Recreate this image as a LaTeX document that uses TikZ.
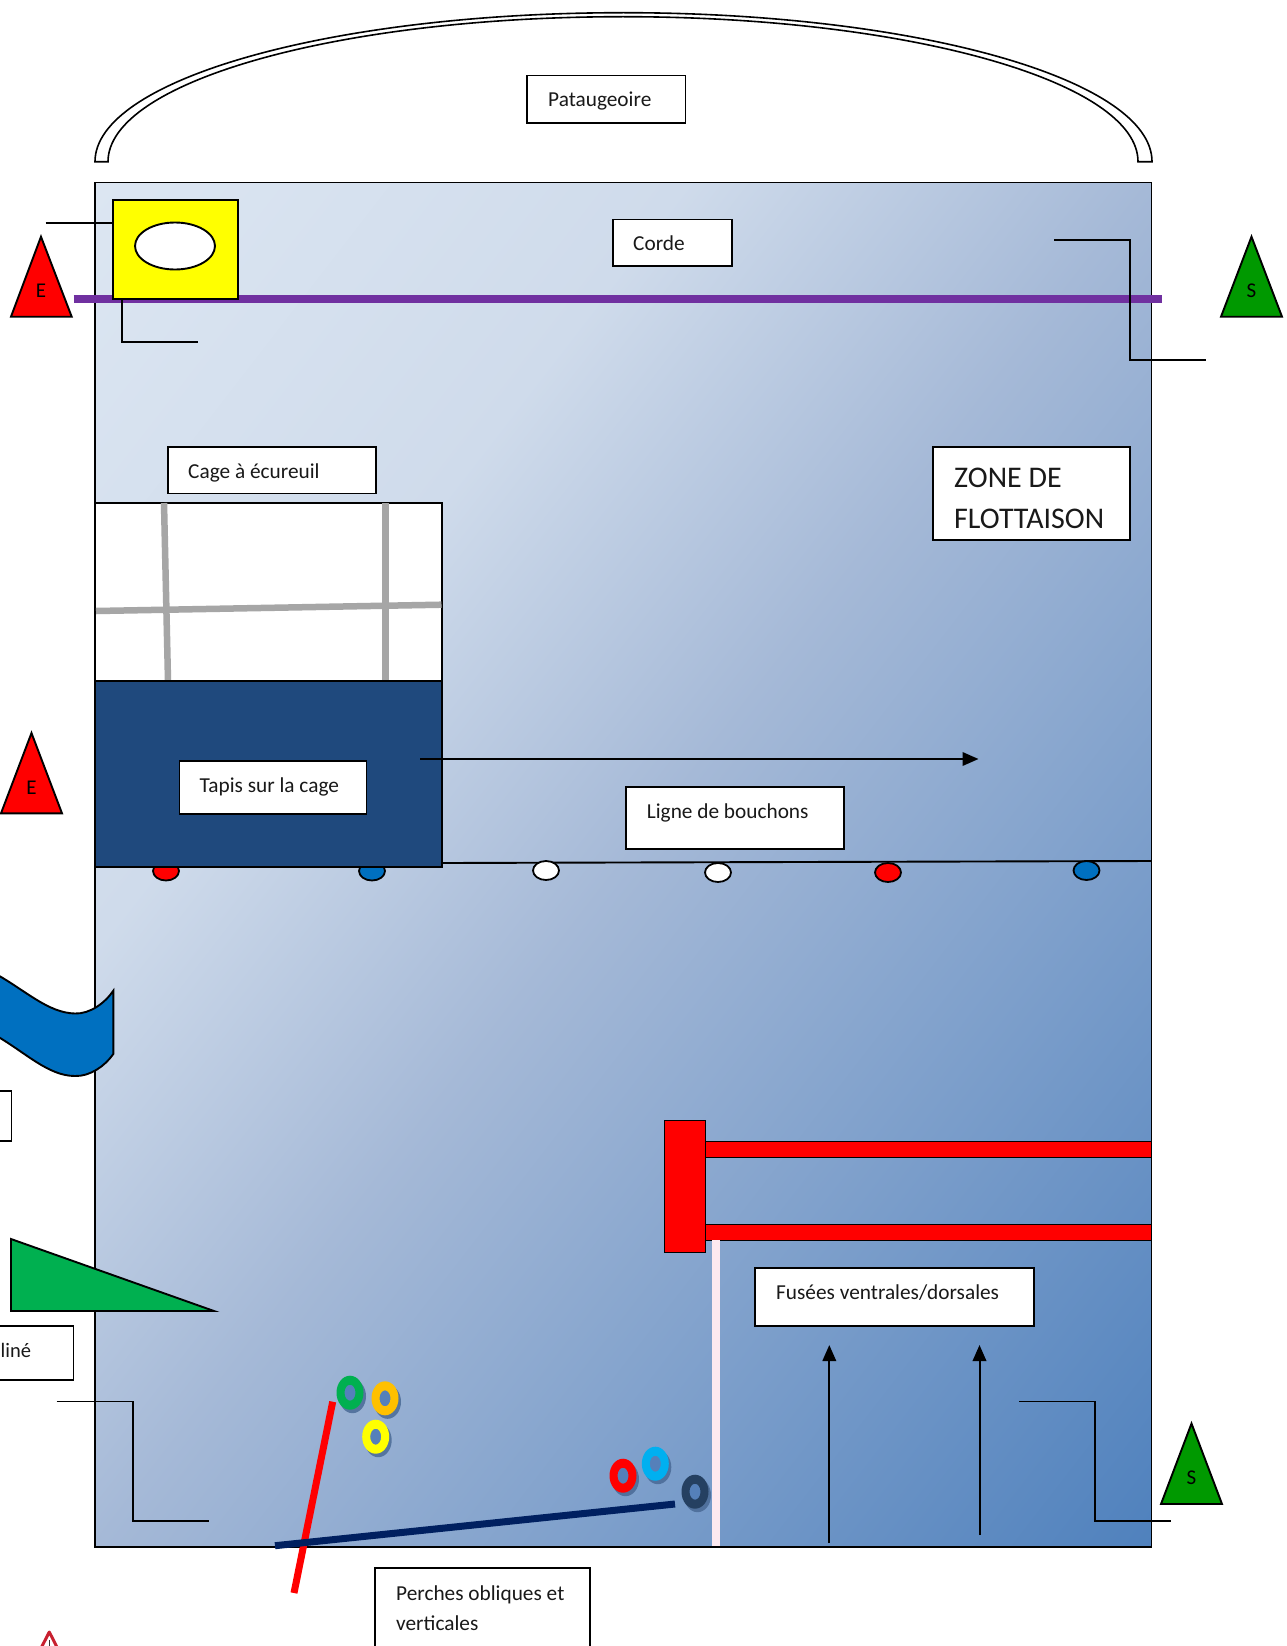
\documentclass[tikz,border=0pt]{standalone}
\usepackage{fontspec}
\setmainfont{Carlito}
\usetikzlibrary{arrows.meta,shapes.geometric}
\definecolor{navyf}{HTML}{1F497D}
\definecolor{rodnavy}{HTML}{002060}
\definecolor{purp}{HTML}{7030A0}
\definecolor{grn}{HTML}{00B050}
\definecolor{sgreen}{HTML}{009900}
\definecolor{wavec}{HTML}{0070C0}
\definecolor{pole}{HTML}{FDE9F0}
\definecolor{grayb}{HTML}{A6A6A6}
\definecolor{ringhole}{HTML}{5580BA}
\definecolor{ringshadow}{HTML}{4A6A96}
\definecolor{warnred}{HTML}{C8202F}
\definecolor{ringor}{HTML}{FFC000}
\definecolor{ringcy}{HTML}{00B0F0}
\definecolor{ringdk}{HTML}{254061}
\definecolor{yel}{HTML}{FFFF00}
\definecolor{gA}{HTML}{DCE6F2}
\definecolor{gAB}{HTML}{CFDBEB}
\definecolor{gB}{HTML}{A5B9D7}
\definecolor{gC}{HTML}{4F81BD}
\pgfdeclareverticalshading{poolshade}{100bp}{color(0bp)=(gC);color(50bp)=(gB);color(72bp)=(gAB);color(100bp)=(gA)}
\tikzset{
 x=1pt,y=-1pt,
 conn/.style={draw=black,line width=1.9pt},
 boxr/.style={draw=black,line width=1.8pt,fill=white},
 lab/.style={font=\fontsize{21.3}{24}\selectfont,anchor=base west,inner sep=0pt,text=black!90},
 bigl/.style={font=\fontsize{30}{32}\selectfont,anchor=base west,inner sep=0pt,text=black!90},
 trilab/.style={font=\fontsize{21}{24}\selectfont,inner sep=0pt,text=black},
 tri/.style={draw=black,line width=1.9pt,line join=miter,fill=#1},
 floatb/.style={draw=black,line width=1.8pt,fill=#1,ellipse,minimum width=26pt,minimum height=19pt,inner sep=0pt},
 barr/.style={draw=black,line width=1pt,fill=red},
 grayrod/.style={draw=grayb,line width=6.5pt},
 arrowline/.style={draw=black,line width=2pt,-{Triangle[length=16pt,width=13.5pt]}},
 ringshape/.style={fill=#1,even odd rule}
}
\newcommand{\ringmark}[3]{%
 \fill[ringshadow,opacity=.85] (#1+2.5,#2+3.5) circle[x radius=13.5,y radius=17];
 \fill[ringhole] (#1,#2) circle[x radius=7,y radius=10];
 \path[ringshape=#3] (#1,#2) circle[x radius=13.5,y radius=17] (#1,#2) circle[x radius=5.5,y radius=8];
}
\begin{document}
\begin{tikzpicture}
\useasboundingbox (0,0) rectangle (1287,1646);
\clip (0,0) rectangle (1287,1646);
% roof
\path[draw=black,line width=1.6pt,fill=white] (95,161.7) arc[start angle=180,end angle=360,x radius=528.5,y radius=149] -- (1138,161.7) arc[start angle=360,end angle=180,x radius=515,y radius=145] -- cycle;
% main pool
\begin{scope}
 \clip (95,182.5) rectangle (1151.5,1547);
 \pgflowlevelobj{\pgftransformshift{\pgfpointxy{623.25}{864.75}}\pgftransformcm{10.52}{13.59}{-10.52}{13.59}{\pgfpointorigin}}{\pgfuseshading{poolshade}}
\end{scope}
\draw[conn] (95,182.5) rectangle (1151.5,1547);
% label boxes
\draw[boxr] (527,75.5) rectangle (685.5,122.8);
\node[lab] (tpat) at (548,106.5) {Pataugeoire};
\draw[boxr] (613,219.4) rectangle (731.7,265.6);
\node[lab] (tcorde) at (633,250.5) {Corde};
\draw[boxr] (933,447) rectangle (1129.6,539.6);
\node[bigl] (tzone1) at (954,487) {ZONE DE};
\node[bigl] (tzone2) at (954,528) {FLOTTAISON};
\draw[boxr] (168,447) rectangle (376,493.4);
\node[lab] (tcage) at (188,478.5) {Cage à écureuil};
% purple rope
\coordinate (ropeL) at (73.5,299);
\coordinate (ropeR) at (1162,299);
\draw[purp,line width=7.5pt] (ropeL) -- (ropeR);
% yellow box
\node[draw=black,line width=1.9pt,fill=yel,minimum width=124.7pt,minimum height=98.7pt,inner sep=0pt] (ybox) at (175.65,249.35) {};
\node[draw=black,line width=1.9pt,fill=white,ellipse,minimum width=80pt,minimum height=47pt,inner sep=0pt] (yell) at (175,246) {};
\coordinate (yA) at (45.7,223);
\draw[conn] (yA) -- (113.3,223);
\coordinate (yB) at (198,342.3);
\draw[conn] (122,298.7) -- (122,342.3) -- (yB);
% top right bracket
\coordinate (trA) at (1054,240.4);
\coordinate (trB) at (1206,360);
\draw[conn] (trA) -- (1129.6,240.4) -- (1129.6,360) -- (trB);
% floats behind carpet
\node[floatb=red] (f1) at (166,871) {};
\node[floatb=wavec] (f2) at (372,871) {};
% cage
\node[draw=black,line width=1.9pt,fill=white,minimum width=346.5pt,minimum height=178pt,inner sep=0pt] (cage) at (268.75,592) {};
\coordinate (g1a) at (164,503); \coordinate (g1b) at (168,681);
\coordinate (g2a) at (385.3,503); \coordinate (g2b) at (385.3,681);
\coordinate (g3a) at (96,611); \coordinate (g3b) at (441.5,604.7);
\draw[grayrod] (g1a) -- (g1b);
\draw[grayrod] (g2a) -- (g2b);
\draw[grayrod] (g3a) -- (g3b);
\node[draw=black,line width=1.9pt,fill=navyf,minimum width=346.5pt,minimum height=186pt,inner sep=0pt] (carpet) at (268.75,774) {};
\draw[boxr] (179.5,761) rectangle (366.4,813.6);
\node[lab] (ttapis) at (199.5,792.5) {Tapis sur la cage};
% long arrow
\coordinate (laA) at (420,759);
\coordinate (laB) at (978.5,759);
\draw[arrowline] (laA) -- (laB);
\draw[boxr] (625.7,787) rectangle (844,849);
\node[lab] (tligne) at (646.7,818) {Ligne de bouchons};
% float line
\coordinate (flA) at (442,863);
\coordinate (flB) at (1151.6,861);
\draw[conn] (flA) -- (flB);
\node[floatb=white] (f3) at (546,870.5) {};
\node[floatb=white] (f4) at (718,872.5) {};
\node[floatb=red] (f5) at (888,872.5) {};
\node[floatb=wavec] (f6) at (1086.5,870.5) {};
% triangles
\draw[tri=red] (41,236.7) -- (71.7,316.7) -- (11,316.7) -- cycle;
\node[trilab] (e1) at (41,291) {E};
\draw[tri=red] (31.5,733) -- (62,813.3) -- (1,813.3) -- cycle;
\node[trilab] (e2) at (31.5,788) {E};
\draw[tri=sgreen] (1251.5,236.7) -- (1282,316.7) -- (1221,316.7) -- cycle;
\node[trilab] (s1) at (1251.5,291) {S};
\draw[tri=sgreen] (1191.5,1423.5) -- (1222,1504) -- (1161,1504) -- cycle;
\node[trilab] (s2) at (1191.5,1478) {S};
% wave
\path[draw=black,line width=1.9pt,fill=wavec] (-5,973.5) .. controls (25,990) and (48,1013) .. (75,1013.5) .. controls (90,1014) and (105,1003) .. (113.3,990.7) -- (113.3,1054) .. controls (105,1066) and (90,1076.5) .. (75,1076) .. controls (48,1076) and (25,1052) .. (-5,1035) -- cycle;
% cut off box
\draw[boxr] (-10,1091) rectangle (11.5,1141);
% green incline
\draw[draw=black,line width=1.9pt,fill=grn,line join=miter] (11,1239) -- (214,1311) -- (11,1311) -- cycle;
\draw[boxr] (-10,1325.7) rectangle (73.5,1380);
\node[lab,font=\fontsize{20.5}{24}\selectfont] (tline) at (0.5,1357) {liné};
% bottom left bracket
\coordinate (blA) at (56.7,1401.5);
\coordinate (blB) at (209,1521);
\draw[conn] (blA) -- (133.3,1401.5) -- (133.3,1521) -- (blB);
% bottom right bracket
\coordinate (brA) at (1019,1401.5);
\coordinate (brB) at (1170.5,1521);
\draw[conn] (brA) -- (1095,1401.5) -- (1095,1521) -- (brB);
% red structure
\draw[barr] (705.5,1141) rectangle (1151.6,1157);
\draw[barr] (705.5,1224) rectangle (1151.6,1240);
\draw[barr] (664.5,1120) rectangle (705.5,1252.5);
% pink pole
\fill[pole] (712,1240) rectangle (720,1546);
% fusees
\draw[boxr] (755,1268) rectangle (1034,1326);
\node[lab] (tfus) at (776,1299.5) {Fusées ventrales/dorsales};
\coordinate (ua1) at (829.3,1543); \coordinate (ua2) at (829.3,1345);
\coordinate (ub1) at (979.5,1535); \coordinate (ub2) at (979.5,1345);
\draw[arrowline] (ua1) -- (ua2);
\draw[arrowline] (ub1) -- (ub2);
% rings
\ringmark{350}{1392.7}{grn}
\ringmark{385}{1398.3}{ringor}
\ringmark{375.7}{1436.7}{yel}
\ringmark{623}{1475.7}{red}
\ringmark{655.3}{1463.7}{ringcy}
\ringmark{695}{1491.7}{ringdk}
% rods
\coordinate (ra) at (332.7,1401.7); \coordinate (rb) at (294,1593);
\draw[red,line width=7pt] (ra) -- (rb);
\coordinate (na) at (275,1545.7); \coordinate (nb) at (675,1504);
\draw[rodnavy,line width=7pt] (na) -- (nb);
% perches box
\draw[boxr] (375,1568) rectangle (590,1660);
\node[lab] (tper1) at (396,1600) {Perches obliques et};
\node[lab] (tper2) at (396,1630) {verticales};
% warning sign
\draw[warnred,line width=3pt,line join=round,fill=white] (49.3,1632) -- (61,1655) -- (37.5,1655) -- cycle;
\draw[black!80,line width=1.5pt] (49.3,1640) -- (49.3,1650);
\end{tikzpicture}
\end{document}
